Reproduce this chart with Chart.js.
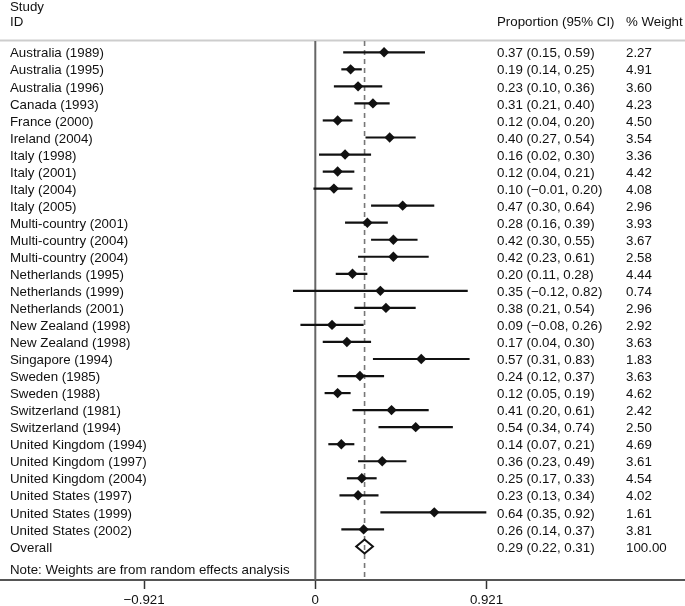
<!DOCTYPE html>
<html><head><meta charset="utf-8">
<script src="https://cdn.jsdelivr.net/npm/chart.js@4"></script>
<style>html,body{margin:0;padding:0;background:#fff}canvas{display:block}</style>
</head><body>
<canvas id="c" width="685" height="606"></canvas>
<script>
const studies = ["Australia (1989)","Australia (1995)","Australia (1996)","Canada (1993)","France (2000)","Ireland (2004)","Italy (1998)","Italy (2001)","Italy (2004)","Italy (2005)","Multi-country (2001)","Multi-country (2004)","Multi-country (2004)","Netherlands (1995)","Netherlands (1999)","Netherlands (2001)","New Zealand (1998)","New Zealand (1998)","Singapore (1994)","Sweden (1985)","Sweden (1988)","Switzerland (1981)","Switzerland (1994)","United Kingdom (1994)","United Kingdom (1997)","United Kingdom (2004)","United States (1997)","United States (1999)","United States (2002)"];
const estimates = [0.37,0.19,0.23,0.31,0.12,0.40,0.16,0.12,0.10,0.47,0.28,0.42,0.42,0.20,0.35,0.38,0.09,0.17,0.57,0.24,0.12,0.41,0.54,0.14,0.36,0.25,0.23,0.64,0.26];
const lowerCI = [0.15,0.14,0.10,0.21,0.04,0.27,0.02,0.04,-0.01,0.30,0.16,0.30,0.23,0.11,-0.12,0.21,-0.08,0.04,0.31,0.12,0.05,0.20,0.34,0.07,0.23,0.17,0.13,0.35,0.14];
const upperCI = [0.59,0.25,0.36,0.40,0.20,0.54,0.30,0.21,0.20,0.64,0.39,0.55,0.61,0.28,0.82,0.54,0.26,0.30,0.83,0.37,0.19,0.61,0.74,0.21,0.49,0.33,0.34,0.92,0.37];
const weights = [2.27,4.91,3.60,4.23,4.50,3.54,3.36,4.42,4.08,2.96,3.93,3.67,2.58,4.44,0.74,2.96,2.92,3.63,1.83,3.63,4.62,2.42,2.50,4.69,3.61,4.54,4.02,1.61,3.81];
const overallLabel = "Overall";
const overallEstimate = 0.29;
const overallLower = 0.22;
const overallUpper = 0.31;
const overallWeight = 100.00;
const xTickValues = [-0.921, 0, 0.921];
const headerStudy = ["Study", "ID"];
const headerEstimate = "Proportion (95% CI)";
const headerWeight = "% Weight";
const noteText = "Note: Weights are from random effects analysis";

const FONT = '13.3px "Liberation Sans", Arial, Helvetica, sans-serif';
const fmt = v => (v < 0 ? "\u2212" : "") + Math.abs(v).toFixed(2);

const datasets = [];
studies.forEach((s, i) => {
  datasets.push({
    type: 'line', showLine: true,
    data: [{x: lowerCI[i], y: i}, {x: upperCI[i], y: i}],
    borderColor: '#111', borderWidth: 2.2, pointRadius: 0, fill: false
  });
});
datasets.push({
  type: 'scatter',
  data: estimates.map((v, i) => ({x: v, y: i})),
  pointStyle: 'rectRot', pointRadius: 5.2, pointBackgroundColor: '#111',
  pointBorderColor: '#111', pointBorderWidth: 0
});

const forestPlugin = {
  id: 'forest',
  beforeDatasetsDraw(chart) {
    const ctx = chart.ctx, xs = chart.scales.x, ca = chart.chartArea;
    ctx.save();
    ctx.strokeStyle = '#cdcdcd'; ctx.lineWidth = 2;
    ctx.beginPath(); ctx.moveTo(0, 40.5); ctx.lineTo(chart.width, 40.5); ctx.stroke();
    const x0 = xs.getPixelForValue(0);
    ctx.strokeStyle = '#666'; ctx.lineWidth = 2;
    ctx.beginPath(); ctx.moveTo(x0, 41); ctx.lineTo(x0, ca.bottom); ctx.stroke();
    const xc = xs.getPixelForValue((overallLower + overallUpper) / 2);
    ctx.strokeStyle = '#777'; ctx.lineWidth = 1.6; ctx.setLineDash([5, 4]);
    ctx.beginPath(); ctx.moveTo(xc, 41); ctx.lineTo(xc, ca.bottom); ctx.stroke();
    ctx.restore();
  },
  afterDraw(chart) {
    const ctx = chart.ctx, xs = chart.scales.x, ys = chart.scales.y;
    ctx.save();
    ctx.font = FONT; ctx.fillStyle = '#111'; ctx.textBaseline = 'middle'; ctx.textAlign = 'left';
    ctx.fillText(headerStudy[0], 10, 7);
    ctx.fillText(headerStudy[1], 10, 22);
    ctx.fillText(headerEstimate, 497, 22);
    ctx.fillText(headerWeight, 626, 22);
    studies.forEach((s, i) => {
      const y = ys.getPixelForValue(i) + 1.5;
      ctx.fillText(s, 10, y);
      ctx.fillText(fmt(estimates[i]) + " (" + fmt(lowerCI[i]) + ", " + fmt(upperCI[i]) + ")", 497, y);
      ctx.fillText(weights[i].toFixed(2), 626, y);
    });
    const n = studies.length;
    const yo = ys.getPixelForValue(n);
    ctx.fillText(overallLabel, 10, yo + 1.5);
    ctx.fillText(fmt(overallEstimate) + " (" + fmt(overallLower) + ", " + fmt(overallUpper) + ")", 497, yo + 1.5);
    ctx.fillText(overallWeight.toFixed(2), 626, yo + 1.5);
    ctx.fillText(noteText, 10, 570);
    const xl = xs.getPixelForValue(overallLower), xr = xs.getPixelForValue(overallUpper);
    const xm = (xl + xr) / 2;
    ctx.strokeStyle = '#111'; ctx.lineWidth = 2;
    ctx.beginPath();
    ctx.moveTo(xl, yo); ctx.lineTo(xm, yo - 7); ctx.lineTo(xr, yo); ctx.lineTo(xm, yo + 7); ctx.closePath();
    ctx.stroke();
    ctx.restore();
  }
};

new Chart(document.getElementById('c'), {
  type: 'scatter',
  data: { datasets },
  options: {
    responsive: false, animation: false,
    layout: { padding: 0, autoPadding: false },
    plugins: { legend: { display: false }, tooltip: { enabled: false } },
    scales: {
      x: {
        type: 'linear', position: 'bottom', min: -1.6961, max: 1.9887,
        afterBuildTicks: s => { s.ticks = xTickValues.map(v => ({ value: v })); },
        afterFit: s => { s.height = 26; },
        ticks: {
          autoSkip: false, maxRotation: 0, padding: 3, color: '#111',
          font: { family: '"Liberation Sans", Arial, sans-serif', size: 13.3 },
          callback: v => v === 0 ? "0" : (v < 0 ? "\u2212" : "") + Math.abs(v).toFixed(3)
        },
        grid: { drawOnChartArea: false, drawTicks: true, tickLength: 9, tickColor: '#333', tickWidth: 1.5 },
        border: { color: '#555', width: 2 }
      },
      y: { type: 'linear', reverse: true, min: -3.069, max: 30.97, display: false }
    }
  },
  plugins: [forestPlugin]
});
</script>
</body></html>
